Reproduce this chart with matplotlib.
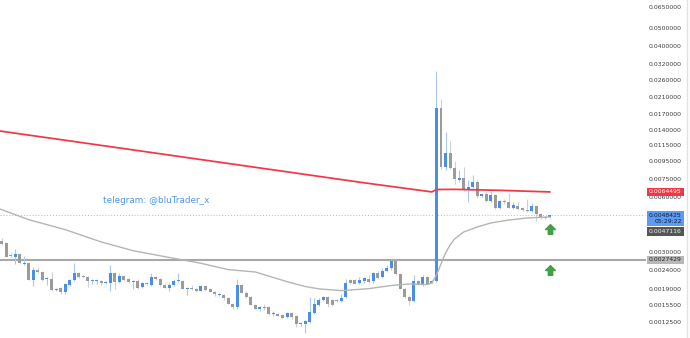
import numpy as np
import matplotlib.pyplot as plt
from matplotlib.path import Path

# ---- candle data (price, log chart) ----
opens = [0.003482, 0.003396, 0.002921, 0.002848, 0.002958, 0.002609, 0.002641, 0.002134, 0.002419, 0.002359,
         0.002161, 0.002161, 0.001882, 0.001930, 0.001835, 0.002004, 0.002134, 0.002330, 0.002244, 0.002216,
         0.002107, 0.002107, 0.002107, 0.002055, 0.002055, 0.002330, 0.002081, 0.002244, 0.002161, 0.002081,
         0.002107, 0.001954, 0.002055, 0.002004, 0.002216, 0.002161, 0.002004, 0.001930, 0.002004, 0.002107,
         0.002107, 0.001906, 0.001930, 0.001906, 0.001858, 0.001979, 0.001906, 0.001835, 0.001767, 0.001767,
         0.001702, 0.001578, 0.001520, 0.002004, 0.001812, 0.001724, 0.001559, 0.001482, 0.001520, 0.001520,
         0.001392, 0.001392, 0.001375, 0.001341, 0.001410, 0.001358, 0.001228, 0.001228, 0.001259, 0.001410,
         0.001559, 0.001660, 0.001724, 0.001660, 0.001660, 0.001639, 0.001724, 0.002134, 0.002134, 0.002055,
         0.002107, 0.002161, 0.002107, 0.002330, 0.002216, 0.002389, 0.002481, 0.002709, 0.002301, 0.001906,
         0.001724, 0.001639, 0.002107, 0.002004, 0.002216, 0.002055, 0.002107, 0.018507, 0.008821, 0.010517,
         0.008711, 0.007492, 0.007683, 0.006608, 0.006861, 0.007306, 0.006128, 0.006284, 0.005755, 0.006206,
         0.005271, 0.005755, 0.005683, 0.005271, 0.005405, 0.005271, 0.005140, 0.005076, 0.005405, 0.004888,
         0.004649, 0.004707]
highs = [0.003616, 0.003439, 0.002995, 0.003149, 0.002995, 0.002884, 0.002675, 0.002512, 0.002512, 0.002389,
         0.002216, 0.002359, 0.001930, 0.001954, 0.002055, 0.002161, 0.002641, 0.002359, 0.002272, 0.002244,
         0.002161, 0.002161, 0.002134, 0.002107, 0.002576, 0.002359, 0.002330, 0.002272, 0.002188, 0.002134,
         0.002161, 0.002081, 0.002081, 0.002330, 0.002244, 0.002188, 0.002029, 0.002055, 0.002161, 0.002330,
         0.002134, 0.001954, 0.002004, 0.001930, 0.002004, 0.002004, 0.001930, 0.001858, 0.001812, 0.001790,
         0.001724, 0.001598, 0.002161, 0.002029, 0.001858, 0.001745, 0.001578, 0.001539, 0.001578, 0.001539,
         0.001446, 0.001410, 0.001392, 0.001428, 0.001428, 0.001375, 0.001259, 0.001291, 0.001724, 0.001702,
         0.001702, 0.001745, 0.001745, 0.001681, 0.001681, 0.001790, 0.002161, 0.002161, 0.002161, 0.002216,
         0.002216, 0.002272, 0.002359, 0.002389, 0.002481, 0.002576, 0.002743, 0.002743, 0.002330, 0.001930,
         0.001767, 0.002272, 0.002134, 0.002272, 0.002244, 0.002134, 0.029456, 0.020722, 0.013691, 0.012228,
         0.009512, 0.008495, 0.008821, 0.007492, 0.007978, 0.007492, 0.006320, 0.006444, 0.006525, 0.006284,
         0.005828, 0.005902, 0.006364, 0.005683, 0.005683, 0.005338, 0.005902, 0.005612, 0.005473, 0.004950,
         0.004767, 0.004827]
lows = [0.003311, 0.002848, 0.002848, 0.002609, 0.002609, 0.002576, 0.002134, 0.001979, 0.002330, 0.002107,
        0.002004, 0.001858, 0.001858, 0.001790, 0.001790, 0.001979, 0.002107, 0.002188, 0.002188, 0.001954,
        0.002029, 0.002029, 0.002004, 0.002029, 0.001858, 0.001906, 0.002055, 0.002107, 0.002055, 0.001906,
        0.001906, 0.001930, 0.002004, 0.001979, 0.002134, 0.001979, 0.001930, 0.001858, 0.001979, 0.002081,
        0.001906, 0.001767, 0.001882, 0.001835, 0.001858, 0.001858, 0.001835, 0.001745, 0.001745, 0.001660,
        0.001578, 0.001482, 0.001482, 0.001812, 0.001702, 0.001559, 0.001482, 0.001446, 0.001464, 0.001375,
        0.001358, 0.001358, 0.001324, 0.001324, 0.001307, 0.001182, 0.001197, 0.001097, 0.001243, 0.001392,
        0.001539, 0.001639, 0.001520, 0.001559, 0.001619, 0.001619, 0.001702, 0.002029, 0.002029, 0.002029,
        0.002055, 0.002055, 0.002055, 0.002161, 0.002188, 0.002359, 0.002419, 0.002272, 0.001906, 0.001702,
        0.001559, 0.001619, 0.002004, 0.001979, 0.002029, 0.002055, 0.002081, 0.008603, 0.008495, 0.008603,
        0.007125, 0.007306, 0.006525, 0.005683, 0.006776, 0.005976, 0.006052, 0.005683, 0.005683, 0.005205,
        0.005205, 0.005542, 0.005271, 0.005205, 0.005140, 0.005076, 0.005013, 0.005013, 0.004476, 0.004590,
        0.004590, 0.004649]
closes = [0.003353, 0.002848, 0.002884, 0.002958, 0.002641, 0.002641, 0.002134, 0.002419, 0.002359, 0.002134,
          0.002188, 0.001882, 0.001906, 0.001835, 0.002029, 0.002134, 0.002330, 0.002216, 0.002216, 0.002107,
          0.002134, 0.002120, 0.002055, 0.002081, 0.002330, 0.002081, 0.002244, 0.002134, 0.002081, 0.002107,
          0.001930, 0.002055, 0.002029, 0.002216, 0.002161, 0.002004, 0.001930, 0.002004, 0.002107, 0.002134,
          0.001906, 0.001930, 0.001906, 0.001858, 0.001979, 0.001882, 0.001835, 0.001790, 0.001790, 0.001702,
          0.001578, 0.001520, 0.002004, 0.001812, 0.001724, 0.001559, 0.001482, 0.001520, 0.001501, 0.001392,
          0.001410, 0.001358, 0.001324, 0.001410, 0.001341, 0.001228, 0.001243, 0.001275, 0.001428, 0.001578,
          0.001660, 0.001724, 0.001578, 0.001559, 0.001639, 0.001702, 0.002055, 0.002055, 0.002029, 0.002134,
          0.002188, 0.002081, 0.002330, 0.002188, 0.002389, 0.002481, 0.002709, 0.002301, 0.001906, 0.001724,
          0.001639, 0.002107, 0.002004, 0.002216, 0.002029, 0.002107, 0.018507, 0.008821, 0.010517, 0.008711,
          0.007587, 0.007683, 0.006608, 0.006861, 0.007306, 0.006128, 0.006284, 0.005755, 0.006206, 0.005271,
          0.005755, 0.005683, 0.005271, 0.005473, 0.005205, 0.005140, 0.005076, 0.005405, 0.004888, 0.004649,
          0.004707, 0.0048425]

# moving averages (read at a few bars)
red_idx = [-1, 20, 40, 60, 80, 95, 96, 100, 110, 121]
red_val = [0.01393, 0.01176, 0.010002, 0.008506, 0.007234, 0.00645, 0.00665, 0.00666, 0.00658, 0.0064495]
gray_idx = [-1, 6, 14, 22, 29, 36, 44, 50, 56, 63, 67, 70, 75, 81, 86, 90, 94, 95,
            96, 97, 98, 99, 100, 102, 105, 108, 112, 116, 121]
gray_val = [0.005271, 0.00455, 0.004018, 0.003439, 0.003083, 0.002861, 0.002632, 0.002431, 0.002359,
            0.002089, 0.001966, 0.001909, 0.001866, 0.001913, 0.001991, 0.002029, 0.002014, 0.002055,
            0.002272, 0.002609, 0.002995, 0.003311, 0.003571, 0.003899, 0.004151, 0.004367, 0.004533,
            0.004649, 0.0047116]

hline_price = 0.0027429
last_price = 0.0048425
last_time = "05:29:22"
arrow_prices = [0.00405, 0.00242]
tick_vals = [0.065, 0.05, 0.04, 0.032, 0.026, 0.021, 0.017, 0.014, 0.0115, 0.0095, 0.0075,
             0.006, 0.0048, 0.0038, 0.003, 0.0024, 0.0019, 0.00155, 0.00125, 0.001]

BLUE = "#4a8fe7"
BLUE_W = "#a9c8f4"
GRAY = "#9b9b9b"
GRAY_W = "#cfcfcf"

fig = plt.figure(figsize=(6.9, 3.38), dpi=100)
ax = fig.add_axes([0, 0, 1, 1])
ax.set_yscale('log')
ax.set_xlim(-0.375, 151.98)
ax.set_ylim(0.0010296, 0.07187)
ax.axis('off')

o = np.array(opens); h = np.array(highs); l = np.array(lows); c = np.array(closes)
x = np.arange(len(o))
up = c >= o
bot = np.minimum(o, c)
top = np.maximum(o, c)
top = np.maximum(top, bot * 1.012)  # keep dojis visible

ax.vlines(x[up], l[up], h[up], color=BLUE_W, lw=0.8, zorder=2)
ax.vlines(x[~up], l[~up], h[~up], color=GRAY_W, lw=0.8, zorder=2)
ax.bar(x[up], top[up] - bot[up], bottom=bot[up], width=0.66, color=BLUE, lw=0, zorder=3)
ax.bar(x[~up], top[~up] - bot[~up], bottom=bot[~up], width=0.66, color=GRAY, lw=0, zorder=3)

ax.plot(red_idx, red_val, color="#f23645", lw=1.25, zorder=4)
ax.plot(gray_idx, gray_val, color="#b5b5b5", lw=1.0, zorder=4)

xr = 645 / 690
ax.axhline(hline_price, xmax=xr, color="#a8a8a8", lw=1.5, zorder=1)
ax.axhline(last_price, xmax=xr, color="#9bbcf0", lw=0.7, ls=(0, (1, 2)), zorder=1)
ax.plot([0.9957, 0.9957], [0, 1], transform=ax.transAxes, color="#e3e3e3", lw=1)

# up arrows
arrow = Path([(0, 1), (1, 0), (0.45, 0), (0.45, -1), (-0.45, -1), (-0.45, 0), (-1, 0), (0, 1)],
             [Path.MOVETO] + [Path.LINETO] * 6 + [Path.CLOSEPOLY])
ax.plot([121] * len(arrow_prices), arrow_prices, ls='none', marker=arrow, ms=7,
        color="#43a047", zorder=5)

ax.text(22.4, 0.0058, "telegram: @bluTrader_x", color="#4f95ea", fontsize=6.4,
        va='center', ha='left')

# price scale
tr = ax.get_yaxis_transform()
for v in tick_vals:
    ax.text(0.988, v, f"{v:.7f}", transform=tr, ha='right', va='center',
            fontsize=4.4, color="#3c3c3c", clip_on=False)

def tag(price, label, bg, fg):
    ax.text(0.988, price, label, transform=tr, ha='right', va='center', fontsize=4.4,
            color=fg, zorder=6, linespacing=1.3,
            bbox=dict(boxstyle='square,pad=0.3', fc=bg, ec='none'))

tag(red_val[-1], f"{red_val[-1]:.7f}", "#f23645", "white")
tag(hline_price, f"{hline_price:.7f}", "#b8b8b8", "#222222")
tag(0.00393, f"{gray_val[-1]:.7f}", "#555555", "#eeeeee")
tag(last_price * 0.955, f"{last_price:.7f}\n{last_time}", "#5c9bf0", "#0d1c40")

fig.savefig("out.png", dpi=100)
